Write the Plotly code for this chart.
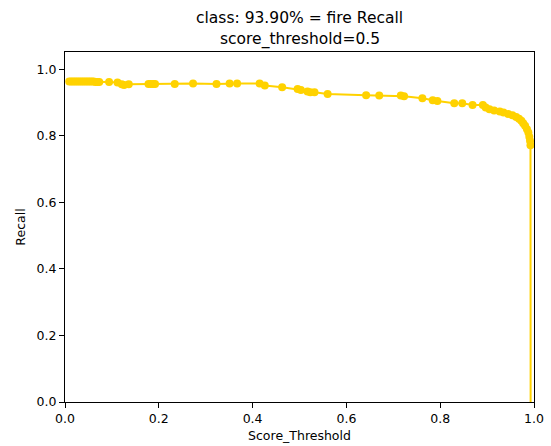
import plotly.graph_objects as go

# Score thresholds (x) and recall values (y)
score_threshold = [
    0.009, 0.013, 0.017, 0.021, 0.025, 0.029, 0.033, 0.037, 0.041, 0.045,
    0.049, 0.053, 0.057, 0.061, 0.065, 0.069, 0.073,
    0.094, 0.112, 0.121, 0.126, 0.136,
    0.178, 0.183, 0.188, 0.192,
    0.234, 0.273, 0.323, 0.351, 0.367,
    0.415, 0.426, 0.463, 0.496, 0.503, 0.517, 0.523, 0.532,
    0.560, 0.642, 0.670, 0.716, 0.723, 0.762, 0.784, 0.794,
    0.830, 0.847, 0.869,
    0.891, 0.897, 0.905, 0.915, 0.927, 0.935, 0.945, 0.954, 0.962, 0.968,
    0.973, 0.977, 0.981, 0.985, 0.988, 0.990, 0.9915, 0.9925,
    0.9928,
]
recall = [
    0.963, 0.963, 0.963, 0.963, 0.963, 0.963, 0.963, 0.963, 0.963, 0.963,
    0.963, 0.963, 0.963, 0.963, 0.962, 0.962, 0.962,
    0.962, 0.960, 0.955, 0.953, 0.955,
    0.956, 0.956, 0.956, 0.956,
    0.956, 0.957, 0.956, 0.957, 0.957,
    0.957, 0.951, 0.946, 0.941, 0.938, 0.933, 0.931, 0.931,
    0.926, 0.922, 0.921, 0.921, 0.919, 0.913, 0.907, 0.905,
    0.898, 0.898, 0.893,
    0.893, 0.885, 0.880, 0.876, 0.873, 0.870, 0.866, 0.862, 0.857, 0.851,
    0.845, 0.838, 0.830, 0.820, 0.810, 0.797, 0.785, 0.772,
    0.0,
]

title_lines = ["class: 93.90% = fire Recall", "score_threshold=0.5"]
x_label = "Score_Threshold"
y_label = "Recall"
tick_vals = [0.0, 0.2, 0.4, 0.6, 0.8, 1.0]

COLOR = "#FFD200"
FONT = "DejaVu Sans"

fig = go.Figure()
# connecting line through every point
fig.add_trace(go.Scatter(
    x=score_threshold, y=recall, mode="lines",
    line=dict(color=COLOR, width=2), hoverinfo="skip", showlegend=False,
))
# markers (the final drop to zero has no visible marker)
fig.add_trace(go.Scatter(
    x=score_threshold[:-1], y=recall[:-1], mode="markers",
    marker=dict(color=COLOR, size=8, line=dict(width=0)), showlegend=False,
))

axis_common = dict(
    showgrid=False, zeroline=False, showline=True, mirror=True,
    linecolor="black", linewidth=1, ticks="outside", ticklen=5,
    tickwidth=1, tickcolor="black", tickfont=dict(family=FONT, size=12.5, color="black"),
    tickvals=tick_vals, ticktext=[f"{v:.1f}" for v in tick_vals],
)

# two-line title as annotations (line 1 higher than line 2)
title_shifts = [34.5, 12.5]
annotations = [
    dict(text=line, x=0.5, xref="paper", y=1, yref="paper",
         xanchor="center", yanchor="middle", yshift=shift, showarrow=False,
         font=dict(family=FONT, size=15.5, color="black"))
    for line, shift in zip(title_lines, title_shifts)
]

fig.update_layout(
    width=551, height=446,
    margin=dict(l=65, r=17, t=52, b=44, autoexpand=False),
    paper_bgcolor="white", plot_bgcolor="white",
    font=dict(family=FONT, color="black"),
    annotations=annotations,
    xaxis=dict(range=[0, 1], title=dict(text=x_label, standoff=6,
               font=dict(family=FONT, size=12.5)), **axis_common),
    yaxis=dict(range=[0, 1.052], title=dict(text=y_label, standoff=8,
               font=dict(family=FONT, size=12.5)), **axis_common),
)

fig.write_html("out.html")
